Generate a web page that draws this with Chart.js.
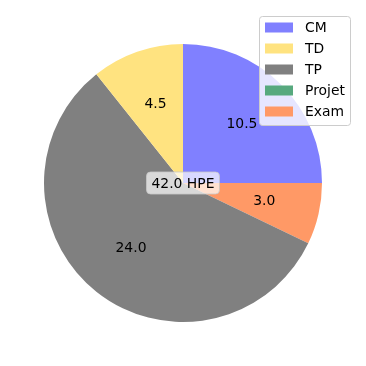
<!DOCTYPE html>
<html>
<head>
<meta charset="utf-8">
<script src="https://cdn.jsdelivr.net/npm/chart.js@4"></script>
<style>
  html, body { margin: 0; padding: 0; background: #fff; }
  #wrap { width: 366px; height: 366px; }
</style>
</head>
<body>
<div id="wrap"><canvas id="chart" width="366" height="366"></canvas></div>
<script>
const categories = ['CM', 'TD', 'TP', 'Projet', 'Exam'];
const hours = [10.5, 4.5, 24.0, 0.0, 3.0];
const colors = ['#8080ff', '#ffe380', '#808080', '#57a97e', '#ff9966'];
const centerLabel = '42.0 HPE';

const FONT = '13.9px "DejaVu Sans", sans-serif';

// matplotlib goes counterclockwise from 3 o'clock, Chart.js clockwise -> reverse
const revLabels = categories.slice().reverse();
const revValues = hours.slice().reverse();
const revColors = colors.slice().reverse();

function roundRect(ctx, x, y, w, h, r) {
    ctx.beginPath();
    ctx.moveTo(x + r, y);
    ctx.lineTo(x + w - r, y);
    ctx.quadraticCurveTo(x + w, y, x + w, y + r);
    ctx.lineTo(x + w, y + h - r);
    ctx.quadraticCurveTo(x + w, y + h, x + w - r, y + h);
    ctx.lineTo(x + r, y + h);
    ctx.quadraticCurveTo(x, y + h, x, y + h - r);
    ctx.lineTo(x, y + r);
    ctx.quadraticCurveTo(x, y, x + r, y);
    ctx.closePath();
}

const labelsPlugin = {
    id: 'pieLabels',
    afterDraw(chart) {
        const ctx = chart.ctx;
        const meta = chart.getDatasetMeta(0);
        ctx.save();
        ctx.font = FONT;
        ctx.fillStyle = '#000';
        ctx.textAlign = 'center';
        ctx.textBaseline = 'middle';
        meta.data.forEach((arc, i) => {
            const v = revValues[i];
            if (v <= 0) return;
            const mid = (arc.startAngle + arc.endAngle) / 2;
            const r = arc.outerRadius * 0.6;
            ctx.fillText(v.toFixed(1), arc.x + Math.cos(mid) * r, arc.y + Math.sin(mid) * r);
        });

        // center box
        const cx = meta.data[0].x, cy = meta.data[0].y;
        const tw = ctx.measureText(centerLabel).width;
        const bw = tw + 10, bh = 22;
        roundRect(ctx, cx - bw / 2, cy - bh / 2, bw, bh, 4);
        ctx.fillStyle = 'rgba(255,255,255,0.7)';
        ctx.fill();
        ctx.strokeStyle = 'rgba(200,200,200,0.8)';
        ctx.lineWidth = 1;
        ctx.stroke();
        ctx.fillStyle = '#000';
        ctx.fillText(centerLabel, cx, cy + 1);

        // legend, upper right
        const lx = 259, ly = 16, lw = 91, lh = 109;
        roundRect(ctx, lx + 0.5, ly + 0.5, lw, lh, 3);
        ctx.fillStyle = 'rgba(255,255,255,0.8)';
        ctx.fill();
        ctx.strokeStyle = '#cccccc';
        ctx.stroke();
        ctx.textAlign = 'left';
        categories.forEach((c, i) => {
            const y = 27.5 + i * 21;
            ctx.fillStyle = colors[i];
            ctx.fillRect(265, y - 5, 28, 10);
            ctx.fillStyle = '#000';
            ctx.fillText(c, 305, y + 1);
        });
        ctx.restore();
    }
};

new Chart(document.getElementById('chart'), {
    type: 'pie',
    data: {
        labels: revLabels,
        datasets: [{
            data: revValues,
            backgroundColor: revColors,
            borderWidth: 0
        }]
    },
    options: {
        responsive: false,
        animation: false,
        rotation: 90,
        layout: { padding: 44 },
        plugins: {
            legend: { display: false },
            tooltip: { enabled: false }
        }
    },
    plugins: [labelsPlugin]
});
</script>
</body>
</html>
